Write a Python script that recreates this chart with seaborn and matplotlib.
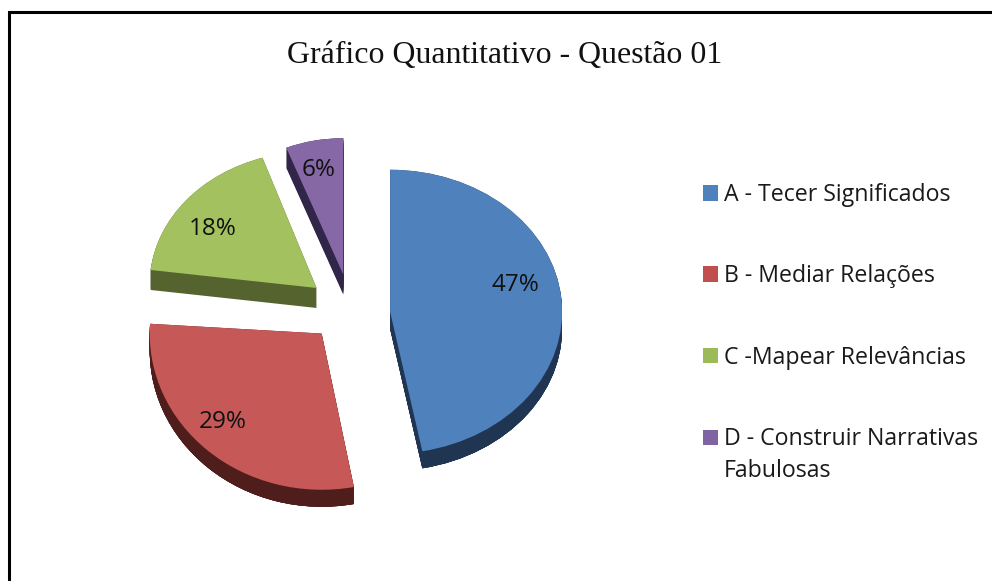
import matplotlib
matplotlib.use("Agg")
import matplotlib.pyplot as plt
from matplotlib.transforms import Affine2D
from matplotlib.lines import Line2D
import seaborn as sns

categories = ["A - Tecer Significados", "B - Mediar Relações", "C -Mapear Relevâncias",
              "D - Construir Narrativas\nFabulosas"]
values = [47, 29, 18, 6]
title = "Gráfico Quantitativo - Questão 01"
top_colors = ["#4f81bd", "#c65957", "#a3c25f", "#8668a6"]
side_colors = ["#1f3552", "#4f1e1c", "#55642e", "#32254a"]
legend_colors = ["#4f81bd", "#c0504d", "#9bbb59", "#8064a2"]
explode = [0.24, 0.24, 0.24, 0.24]
# per-slice perspective adjustments
x_stretch = [1.0, 1.0, 0.97, 0.90]
y_stretch = [1.0, 1.10, 0.96, 0.96]
y_shear = [0.0, 0.0, -0.055, 0.0]
x_shear = [0.0, 0.0, 0.055, 0.0]
shift_px = [(0, 6), (0, -1), (1, -1), (2, -1)]
depth_px = [17, 17, 20, 20]
label_px = [(515, 285), (223, 422), (213, 229), (319, 170)]

W, H = 992, 581
CX, CY, RX, RY = 349, 309, 172, 142

sns.set_theme(style="white")
plt.rcParams["font.family"] = ["Open Sans", "DejaVu Sans"]
fig = plt.figure(figsize=(W / 100, H / 100), dpi=100, facecolor="white")
ax = fig.add_axes([0, 0, 1, 1])


def to_data(px, py):
    return (px - CX) / RX, (CY - py) / RY


def slice_transform(w, i, drop_px=0):
    """Perspective tweak of one slice about its apex (pixel-derived shear and stretch)."""
    x0, y0 = w.center
    a = x_stretch[i]
    d = y_stretch[i]
    b = y_shear[i] * RX / RY
    c = x_shear[i] * RY / RX
    sx, sy = shift_px[i]
    return (Affine2D().translate(-x0, -y0)
            + Affine2D.from_values(a, b, c, d, 0, 0)
            + Affine2D().translate(x0 + sx / RX, y0 - (sy + drop_px) / RY)
            + ax.transData)


palette = sns.color_palette(top_colors)
side_palette = sns.color_palette(side_colors)
legend_palette = sns.color_palette(legend_colors)
flat = dict(linewidth=0, edgecolor="none")

# Extruded sides: stacked dark copies of the pie, shifted down
for step in range(0, 21):
    side, _ = ax.pie(values, colors=side_palette, explode=explode, startangle=90,
                     counterclock=False, radius=1, wedgeprops=flat)
    for i, w in enumerate(side):
        w.set_transform(slice_transform(w, i, min(step, depth_px[i])))
        w.set_zorder(1)

wedges, _, autotexts = ax.pie(values, colors=palette, explode=explode, startangle=90,
                              counterclock=False, radius=1, autopct="%d%%", wedgeprops=flat,
                              textprops=dict(fontsize=17.5, color="#111111"))
for i, w in enumerate(wedges):
    w.set_transform(slice_transform(w, i))
    w.set_zorder(2)
for t, (px, py) in zip(autotexts, label_px):
    t.set_position(to_data(px, py))
    t.set_zorder(3)

ax.set_aspect("auto")
ax.set_xlim(to_data(0, 0)[0], to_data(W, 0)[0])
ax.set_ylim(to_data(0, H)[1], to_data(0, 0)[1])
ax.axis("off")

fig.text(505 / W, 1 - 56 / H, title, family="Liberation Serif", fontsize=22.95,
         color="#111111", ha="center", va="center")

# Frame: left and top edges only
fig.add_artist(Line2D([8.5 / W, 8.5 / W, 1], [0, 1 - 11.5 / H, 1 - 11.5 / H],
                      color="black", lw=2.2, solid_joinstyle="miter"))

handles = [plt.Rectangle((0, 0), 1, 1, facecolor=c, edgecolor="none") for c in legend_palette]
leg = fig.legend(handles, categories, loc="upper left",
                 bbox_to_anchor=(703 / W, 1 - 183 / H), frameon=False,
                 fontsize=16.7, handlelength=0.65, handleheight=0.65,
                 handletextpad=0.26, labelspacing=2.47, borderpad=0, borderaxespad=0,
                 labelcolor="#1a1a1a")
leg.get_texts()[3].set_linespacing(1.45)
leg.get_patches()[3].set_y(13.3)

fig.savefig("out.png", dpi=100)
